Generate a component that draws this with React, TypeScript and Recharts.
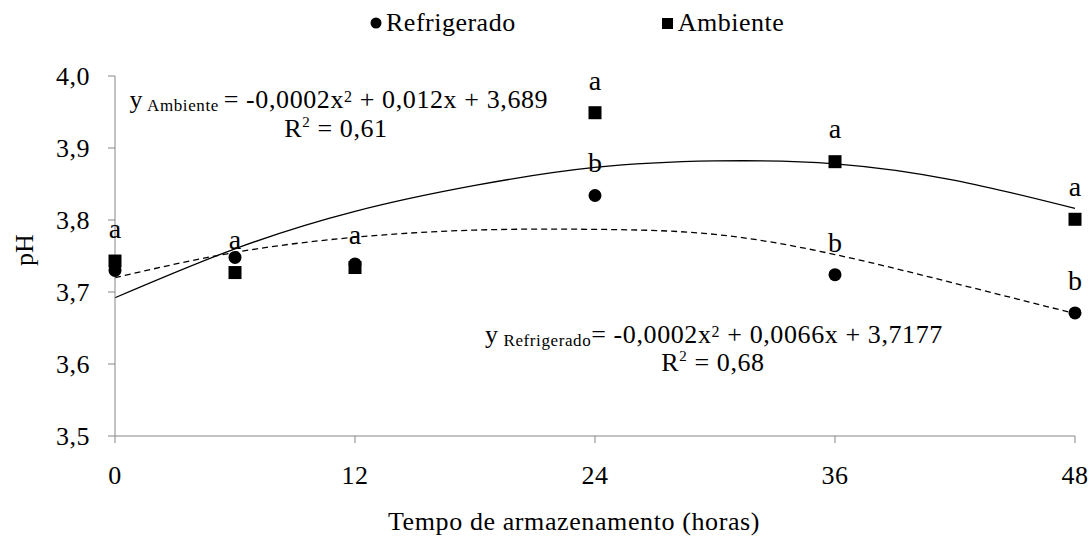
import React from "react";
import {
  ComposedChart,
  Scatter,
  Line,
  XAxis,
  YAxis,
  Legend,
  Label,
  LabelList,
  ReferenceDot,
} from "recharts";

const hours = [0, 6, 12, 24, 36, 48];
const refrigerado = [3.73, 3.748, 3.739, 3.834, 3.724, 3.671];
const ambiente = [3.743, 3.727, 3.734, 3.949, 3.881, 3.801];
const letrasRefrigerado = ["", "", "", "b", "b", "b"];
const letrasAmbiente = ["a", "a", "a", "a", "a", "a"];

// curvas de tendência
const trendHours = [0, 6, 12, 18, 24, 30, 36, 42, 48];
const trendAmbiente = [3.692, 3.76, 3.812, 3.848, 3.873, 3.882, 3.878, 3.855, 3.816];
const trendRefrigerado = [3.72, 3.755, 3.776, 3.786, 3.787, 3.78, 3.752, 3.712, 3.67];

const xTicks = [0, 12, 24, 36, 48];
const yTicks = [3.5, 3.6, 3.7, 3.8, 3.9, 4.0];

const FONT = '"Liberation Serif", "Times New Roman", serif';
const AXIS = "#868686";

const refData = hours.map((x, i) => ({ x, y: refrigerado[i], letra: letrasRefrigerado[i] }));
const ambData = hours.map((x, i) => ({ x, y: ambiente[i], letra: letrasAmbiente[i] }));
const refTrend = trendHours.map((x, i) => ({ x, y: trendRefrigerado[i] }));
const ambTrend = trendHours.map((x, i) => ({ x, y: trendAmbiente[i] }));

const Circle = (props: any) => <circle cx={props.cx} cy={props.cy} r={6.5} fill="#000" />;
const Square = (props: any) => (
  <rect x={props.cx - 6.5} y={props.cy - 6.5} width={13} height={13} fill="#000" />
);

const letter = (props: any) => {
  const { x, y, width, height, value } = props;
  if (!value) return null;
  return (
    <text x={x + width / 2} y={y + height / 2 - 33} dy="0.35em" textAnchor="middle" fontSize={28} fontFamily={FONT} fill="#000">
      {value}
    </text>
  );
};

const eqStyle = { letterSpacing: 0.6 };

const EqAmbiente = ({ viewBox }: any) => (
  <text x={viewBox.x} y={viewBox.y} fontSize={26} fontFamily={FONT} fill="#000" style={eqStyle}>
    <tspan>y</tspan>
    <tspan fontSize={17} dy={3}>{" Ambiente "}</tspan>
    <tspan dy={-3}>{"= -0,0002x"}</tspan>
    <tspan fontSize={16} dy={-6}>2</tspan>
    <tspan dy={6}>{" + 0,012x + 3,689"}</tspan>
  </text>
);

const EqRefrigerado = ({ viewBox }: any) => (
  <text x={viewBox.x} y={viewBox.y} fontSize={26} fontFamily={FONT} fill="#000" style={eqStyle}>
    <tspan>y</tspan>
    <tspan fontSize={17} dy={3}>{" Refrigerado"}</tspan>
    <tspan dy={-3}>{"= -0,0002x"}</tspan>
    <tspan fontSize={16} dy={-6}>2</tspan>
    <tspan dy={6}>{" + 0,0066x + 3,7177"}</tspan>
  </text>
);

const R2 = (value: string) => ({ viewBox }: any) => (
  <text x={viewBox.x} y={viewBox.y} fontSize={26} fontFamily={FONT} fill="#000" textAnchor="middle" style={eqStyle}>
    <tspan>R</tspan>
    <tspan fontSize={15} dy={-10}>2</tspan>
    <tspan dy={10}>{" = " + value}</tspan>
  </text>
);

const renderLegend = () => (
  <div style={{ display: "flex", alignItems: "center", fontFamily: FONT, fontSize: 26, letterSpacing: 0.5, color: "#000" }}>
    <svg width={12} height={12} style={{ marginRight: 4 }}>
      <circle cx={6} cy={6} r={5.5} fill="#000" />
    </svg>
    <span>Refrigerado</span>
    <svg width={11} height={11} style={{ marginLeft: 146, marginRight: 5 }}>
      <rect x={0} y={0} width={11} height={11} fill="#000" />
    </svg>
    <span>Ambiente</span>
  </div>
);

const PhTitle = ({ viewBox }: any) => {
  const cy = viewBox.y + viewBox.height / 2 - 6;
  return (
    <text x={24} y={cy} transform={`rotate(-90, 24, ${cy})`} textAnchor="middle" dy="0.35em" fontSize={26} fontFamily={FONT} fill="#000">
      pH
    </text>
  );
};

const tickStyle = { fill: "#000", fontSize: 26, fontFamily: FONT, letterSpacing: 0.5 };

export default function App() {
  return (
    <div style={{ position: "absolute", left: 0, top: 0, background: "#fff" }}>
      <ComposedChart width={1091} height={536} margin={{ top: 76, right: 16, left: 0, bottom: 0 }}>
        <XAxis
          type="number"
          dataKey="x"
          domain={[0, 48]}
          ticks={xTicks}
          height={100}
          tickSize={7}
          tickMargin={23}
          axisLine={{ stroke: AXIS }}
          tickLine={{ stroke: AXIS }}
          tick={tickStyle}
        >
          <Label value="Tempo de armazenamento (horas)" position="insideBottom" offset={6} dx={-21} fill="#000" fontSize={26} fontFamily={FONT} style={{ letterSpacing: 0.6 }} />
        </XAxis>
        <YAxis
          type="number"
          dataKey="y"
          domain={[3.5, 4.0]}
          ticks={yTicks}
          width={115}
          tickSize={7}
          tickMargin={18}
          axisLine={{ stroke: AXIS }}
          tickLine={{ stroke: AXIS }}
          tick={tickStyle}
          tickFormatter={(v: number) => v.toFixed(1).replace(".", ",")}
        >
          <Label content={PhTitle} />
        </YAxis>
        <Legend layout="horizontal" verticalAlign="middle" align="center" content={renderLegend} wrapperStyle={{ top: 8, left: 370, width: 460 }} />
        <Line data={ambTrend} dataKey="y" type="natural" stroke="#000" strokeWidth={1.3} dot={false} isAnimationActive={false} legendType="none" />
        <Line data={refTrend} dataKey="y" type="natural" stroke="#000" strokeWidth={1.3} strokeDasharray="6 4" dot={false} isAnimationActive={false} legendType="none" />
        <Scatter name="Refrigerado" data={refData} dataKey="y" shape={Circle} isAnimationActive={false}>
          <LabelList dataKey="letra" content={letter} />
        </Scatter>
        <Scatter name="Ambiente" data={ambData} dataKey="y" shape={Square} isAnimationActive={false}>
          <LabelList dataKey="letra" content={letter} />
        </Scatter>
        <ReferenceDot x={0.725} y={3.9556} r={0} stroke="none" label={EqAmbiente} />
        <ReferenceDot x={11.05} y={3.915} r={0} stroke="none" label={R2("0,61")} />
        <ReferenceDot x={18.5} y={3.629} r={0} stroke="none" label={EqRefrigerado} />
        <ReferenceDot x={29.9} y={3.59} r={0} stroke="none" label={R2("0,68")} />
      </ComposedChart>
    </div>
  );
}
